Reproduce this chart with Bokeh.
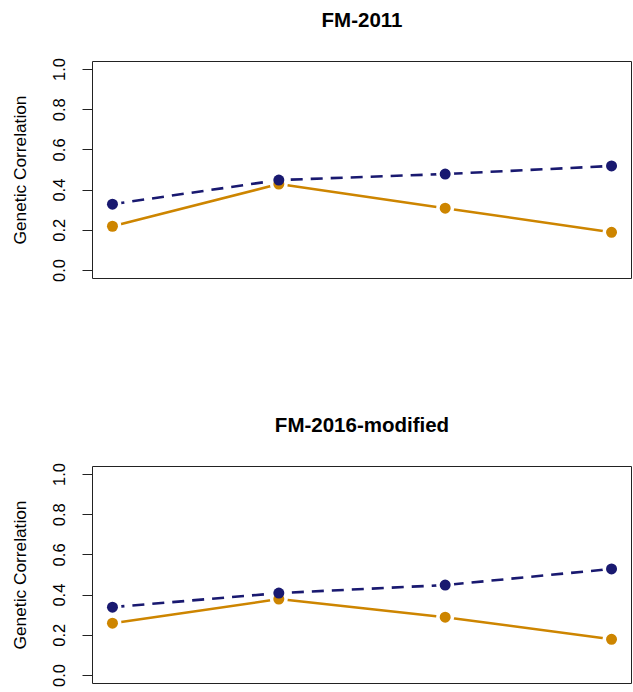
from bokeh.plotting import figure
from bokeh.layouts import column
from bokeh.models import Range1d, FixedTicker, NumeralTickFormatter, Label
from bokeh.embed import file_html
from bokeh.resources import INLINE

# ---- data ----
x_positions = [1, 2, 3, 4]
titles = ["FM-2011", "FM-2016-modified"]
blue_2011 = [0.33, 0.45, 0.48, 0.52]
orange_2011 = [0.22, 0.43, 0.31, 0.19]
blue_2016 = [0.34, 0.41, 0.45, 0.53]
orange_2016 = [0.26, 0.38, 0.29, 0.18]
y_ticks = [0.0, 0.2, 0.4, 0.6, 0.8, 1.0]
y_tick_labels = ["0.0", "0.2", "0.4", "0.6", "0.8", "1.0"]
y_label = "Genetic Correlation"

BLUE = "#191970"
ORANGE = "#CD8500"
FONT = "Liberation Sans"


def title_strip(text, height, mbr):
    t = figure(width=633, height=height, x_range=Range1d(0, 1), y_range=Range1d(0, 1),
               output_backend="svg", toolbar_location=None,
               min_border_left=92, min_border_right=mbr,
               min_border_top=0, min_border_bottom=0)
    t.axis.visible = False
    t.grid.visible = False
    t.outline_line_color = None
    t.border_fill_color = "white"
    t.background_fill_color = "white"
    t.add_layout(Label(x=0.5, y=0.5, text=text, text_align="center",
                       text_baseline="middle", text_font=FONT,
                       text_font_size="20.5px", text_font_style="bold",
                       text_color="black"))
    return t


def panel(blue, orange, height, mbt, mbb, mbr):
    p = figure(width=633, height=height,
               x_range=Range1d(0.88, 4.12), y_range=Range1d(-0.04, 1.04),
               output_backend="svg", toolbar_location=None,
               min_border_left=92, min_border_right=mbr,
               min_border_top=mbt, min_border_bottom=mbb)
    p.xaxis.visible = False
    p.xgrid.visible = False
    p.ygrid.visible = False
    p.outline_line_color = "#222222"
    p.outline_line_width = 1
    p.background_fill_color = "white"
    p.border_fill_color = "white"

    ax = p.yaxis[0]
    ax.ticker = FixedTicker(ticks=y_ticks)
    ax.formatter = NumeralTickFormatter(format="0.0")
    ax.major_label_overrides = {t: l for t, l in zip(y_ticks, y_tick_labels)}
    ax.major_label_orientation = "vertical"
    ax.major_label_text_font = FONT
    ax.major_label_text_font_size = "16.5px"
    ax.major_label_text_color = "black"
    ax.major_label_standoff = 17
    ax.major_tick_out = 10
    ax.major_tick_in = 0
    ax.major_tick_line_color = "#222222"
    ax.minor_tick_out = 0
    ax.minor_tick_in = 0
    ax.axis_line_color = None
    ax.axis_label = y_label
    ax.axis_label_text_font = FONT
    ax.axis_label_text_font_size = "17.3px"
    ax.axis_label_text_font_style = "normal"
    ax.axis_label_text_color = "black"
    ax.axis_label_standoff = 21

    p.line(x_positions, blue, line_color=BLUE, line_width=2.6, line_dash="12 8")
    p.line(x_positions, orange, line_color=ORANGE, line_width=2.5)
    p.scatter(x_positions, blue, size=18, fill_color="white", line_color=None)
    p.scatter(x_positions, orange, size=18, fill_color="white", line_color=None)
    p.scatter(x_positions, orange, size=11, fill_color=ORANGE, line_color=None)
    p.scatter(x_positions, blue, size=11, fill_color=BLUE, line_color=None)
    return p


title_top = title_strip(titles[0], 38, 0)
top = panel(blue_2011, orange_2011, 362, 23, 122, 0)
title_bottom = title_strip(titles[1], 48, 2)
bottom = panel(blue_2016, orange_2016, 244, 18, 9, 2)

layout = column(title_top, top, title_bottom, bottom, spacing=0)
open("out.html", "w").write(file_html(layout, INLINE))
